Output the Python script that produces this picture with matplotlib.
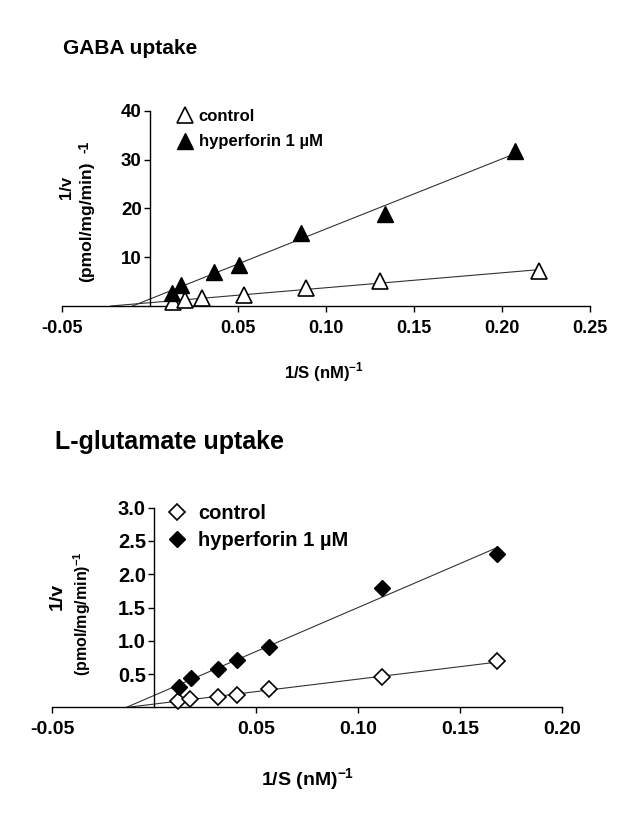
import numpy as np
import matplotlib
matplotlib.use("Agg")
import matplotlib.pyplot as plt

plt.rcParams['font.family'] = ['Liberation Sans', 'DejaVu Sans']
plt.rcParams['font.weight'] = 'bold'
plt.rcParams['mathtext.fontset'] = 'custom'
plt.rcParams['mathtext.rm'] = 'Liberation Sans:bold'
plt.rcParams['mathtext.bf'] = 'Liberation Sans:bold'

W, H = 626, 827

# GABA uptake (1/S in nM^-1, 1/v in (pmol/mg/min)^-1)
gaba_ctrl_x = [0.0133, 0.0197, 0.0298, 0.0536, 0.0889, 0.1307, 0.2209]
gaba_ctrl_y = [0.9, 1.2, 1.6, 2.2, 3.6, 5.2, 7.1]
gaba_hyp_x = [0.0127, 0.0174, 0.0365, 0.0507, 0.0856, 0.1336, 0.2075]
gaba_hyp_y = [2.7, 4.3, 7.0, 8.4, 15.0, 18.9, 31.8]

# L-glutamate uptake
glu_ctrl_x = [0.0118, 0.0175, 0.0314, 0.0404, 0.0562, 0.1118, 0.1678]
glu_ctrl_y = [0.10, 0.125, 0.16, 0.185, 0.27, 0.45, 0.69]
glu_hyp_x = [0.0123, 0.0179, 0.0314, 0.0404, 0.0562, 0.1115, 0.1678]
glu_hyp_y = [0.30, 0.44, 0.57, 0.71, 0.91, 1.80, 2.31]

labels = ['control', 'hyperforin 1 \u00b5M']


def rect(left, top, right, bottom):
    return [left / W, 1 - bottom / H, (right - left) / W, (bottom - top) / H]


def fpos(x, y):
    return x / W, 1 - y / H


def fit_line(ax, x, y):
    # least-squares line drawn from its x-intercept to the last point
    slope, icpt = np.polyfit(x, y, 1)
    xs = np.array([-icpt / slope, max(x)])
    ax.plot(xs, slope * xs + icpt, color='#333333', lw=0.8, zorder=1)


def style_axes(ax, xlim, ylim, xticks, yticks, xfmt, yfmt, fs_x, fs_y):
    ax.set_xlim(*xlim)
    ax.set_ylim(*ylim)
    for s in ('top', 'right'):
        ax.spines[s].set_visible(False)
    ax.spines['left'].set_position(('data', 0))
    ax.spines['bottom'].set_position(('data', 0))
    ax.spines['left'].set_linewidth(1.0)
    ax.spines['bottom'].set_linewidth(1.0)
    ax.set_xticks(xticks)
    ax.set_xticklabels([xfmt.format(t) for t in xticks], fontsize=fs_x, fontweight='bold')
    ax.set_yticks(yticks)
    ax.set_yticklabels([yfmt.format(t) for t in yticks], fontsize=fs_y, fontweight='bold')
    ax.tick_params(direction='out', length=4, width=1, pad=6)
    ax.tick_params(axis='y', pad=2)
    ax.patch.set_visible(False)


fig = plt.figure(figsize=(W / 100, H / 100), dpi=100)

# --- GABA panel ---
ax1 = fig.add_axes(rect(62, 110.7, 590, 306))
fit_line(ax1, gaba_ctrl_x, gaba_ctrl_y)
fit_line(ax1, gaba_hyp_x, gaba_hyp_y)
ax1.plot(gaba_ctrl_x, gaba_ctrl_y, ls='none', marker='^', ms=11, mfc='white',
         mec='black', mew=1.2, label=labels[0], zorder=3, clip_on=False)
ax1.plot(gaba_hyp_x, gaba_hyp_y, ls='none', marker='^', ms=11, mfc='black',
         mec='black', label=labels[1], zorder=3, clip_on=False)
style_axes(ax1, (-0.05, 0.25), (0, 40), [-0.05, 0.05, 0.10, 0.15, 0.20, 0.25],
           [10, 20, 30, 40], '{:.2f}', '{:d}', 13, 13.5)
ax1.legend(loc='upper left', bbox_to_anchor=fpos(178, 109), bbox_transform=fig.transFigure,
           frameon=False, handlelength=0.8, handletextpad=0.45,
           labelspacing=0.62, borderpad=0, borderaxespad=0, prop={'weight': 'bold', 'size': 12})

fig.text(*fpos(63, 48), 'GABA uptake', fontsize=15, fontweight='bold', va='center', ha='left')
fig.text(*fpos(324, 372), r'1/S (nM)$^{-1}$', fontsize=12, fontweight='bold', ha='center', va='center')
fig.text(*fpos(66, 187), '1/v', fontsize=12, fontweight='bold', rotation=90, ha='center', va='center')
fig.text(*fpos(87, 222), '(pmol/mg/min)', fontsize=12.6, fontweight='bold', rotation=90, ha='center', va='center')
fig.text(*fpos(85, 147), '-1', fontsize=10, fontweight='bold', rotation=90, ha='center', va='center')

# --- L-glutamate panel ---
ax2 = fig.add_axes(rect(52.3, 507.7, 562.3, 707.3))
fit_line(ax2, glu_ctrl_x, glu_ctrl_y)
fit_line(ax2, glu_hyp_x, glu_hyp_y)
ax2.plot(glu_ctrl_x, glu_ctrl_y, ls='none', marker='D', ms=8.5, mfc='white',
         mec='black', mew=1.2, label=labels[0], zorder=3, clip_on=False)
ax2.plot(glu_hyp_x, glu_hyp_y, ls='none', marker='D', ms=8.5, mfc='black',
         mec='black', label=labels[1], zorder=3, clip_on=False)
style_axes(ax2, (-0.05, 0.20), (0, 3.0), [-0.05, 0.05, 0.10, 0.15, 0.20],
           [0.5, 1.0, 1.5, 2.0, 2.5, 3.0], '{:.2f}', '{:.1f}', 14, 14.5)
ax2.legend(loc='upper left', bbox_to_anchor=fpos(169, 504), bbox_transform=fig.transFigure,
           frameon=False, handlelength=0.8, handletextpad=0.63,
           labelspacing=0.40, borderpad=0, borderaxespad=0, prop={'weight': 'bold', 'size': 14.5})

fig.text(*fpos(55, 442), 'L-glutamate uptake', fontsize=18, fontweight='bold', va='center', ha='left')
fig.text(*fpos(308, 780), r'1/S (nM)$^{-1}$', fontsize=14, fontweight='bold', ha='center', va='center')
fig.text(*fpos(57, 596), '1/v', fontsize=14, fontweight='bold', rotation=90, ha='center', va='center')
fig.text(*fpos(82, 614), r'(pmol/mg/min)$^{-1}$', fontsize=11.5, fontweight='bold', rotation=90,
         ha='center', va='center')

fig.savefig('out.png', dpi=100)
